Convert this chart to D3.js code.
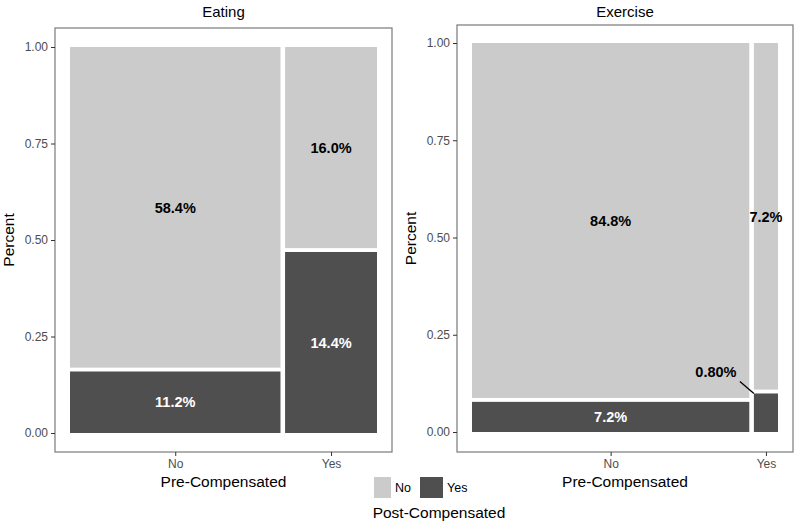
<!DOCTYPE html>
<html>
<head>
<meta charset="utf-8">
<script src="https://cdn.jsdelivr.net/npm/d3@7"></script>
<style>
  body { margin: 0; background: #fff; }
  text { font-family: "Liberation Sans", Arial, sans-serif; }
</style>
</head>
<body>
<svg id="canvas"></svg>
<script>
// categories
const preCats = ['No', 'Yes'];      // x: Pre-Compensated
const postCats = ['No', 'Yes'];     // fill: Post-Compensated
const yTicks = [0, 0.25, 0.5, 0.75, 1];

// percent of all cases, [pre][post]
const eatingNo = [58.4, 11.2];   // pre = No  -> post No, post Yes
const eatingYes = [16.0, 14.4];  // pre = Yes
const exerciseNo = [84.8, 7.2];
const exerciseYes = [7.2, 0.8];
const eatingLabels = [['58.4%', '11.2%'], ['16.0%', '14.4%']];
const exerciseLabels = [['84.8%', '7.2%'], ['7.2%', '0.80%']];

const w = 800, h = 522;
const light = '#cbcbcb', dark = '#4f4f4f';

const svg = d3.select('#canvas').attr('width', w).attr('height', h);

const panels = [
  { title: 'Eating', data: [eatingNo, eatingYes], labels: eatingLabels,
    box: [55, 28, 392, 452], xr: [70, 377], yr: [433, 47] },
  { title: 'Exercise', data: [exerciseNo, exerciseYes], labels: exerciseLabels,
    box: [457, 25, 793, 452], xr: [472, 778], yr: [432, 43] }
];

const gx = 0.015, gy = 0.01;

panels.forEach((p) => {
  const g = svg.append('g');
  const x = d3.scaleLinear().domain([0, 1]).range(p.xr);
  const y = d3.scaleLinear().domain([0, 1]).range(p.yr);
  const total = d3.sum(p.data, (d) => d3.sum(d));

  // build tiles
  const tiles = [];
  let xs = 0;
  p.data.forEach((col, i) => {
    const colTot = d3.sum(col);
    const wdt = (colTot / total) * (1 - gx);
    const darkH = (col[1] / colTot) * (1 - gy);
    // post = Yes (dark) at bottom, post = No (light) on top
    tiles.push({ pre: i, post: 1, x0: xs, x1: xs + wdt, y0: 0, y1: darkH });
    tiles.push({ pre: i, post: 0, x0: xs, x1: xs + wdt, y0: darkH + gy, y1: 1 });
    xs += wdt + gx;
  });

  // border
  g.append('rect')
    .attr('x', p.box[0]).attr('y', p.box[1])
    .attr('width', p.box[2] - p.box[0]).attr('height', p.box[3] - p.box[1])
    .attr('fill', 'none').attr('stroke', '#7a7a7a').attr('stroke-width', 1.2);

  g.selectAll('rect.tile')
    .data(tiles)
    .enter()
    .append('rect')
    .attr('class', 'tile')
    .attr('x', (d) => x(d.x0))
    .attr('width', (d) => x(d.x1) - x(d.x0))
    .attr('y', (d) => y(d.y1))
    .attr('height', (d) => y(d.y0) - y(d.y1))
    .attr('fill', (d) => (d.post === 1 ? dark : light));

  // labels
  tiles.forEach((d) => {
    const txt = p.labels[d.pre][d.post];
    let cx = (x(d.x0) + x(d.x1)) / 2;
    let cy = (y(d.y0) + y(d.y1)) / 2;
    let color = d.post === 1 ? '#fff' : '#000';
    if (txt === '0.80%') {
      // repelled label with a leader line
      const tx = x(d.x0), ty = y(d.y1);
      g.append('line')
        .attr('x1', tx - 14).attr('y1', ty - 12)
        .attr('x2', tx).attr('y2', ty)
        .attr('stroke', '#000').attr('stroke-width', 1.3);
      cx = tx - 38; cy = ty - 22; color = '#000';
    }
    g.append('text')
      .attr('x', cx).attr('y', cy)
      .attr('dy', '0.36em')
      .attr('text-anchor', 'middle')
      .attr('font-size', 14.5)
      .attr('font-weight', 'bold')
      .attr('fill', color)
      .text(txt);
  });

  // axes
  const yAxis = d3.axisLeft(y).tickValues(yTicks).tickFormat(d3.format('.2f')).tickSize(4).tickPadding(3);
  const ya = g.append('g').attr('transform', 'translate(' + p.box[0] + ',0)').call(yAxis);
  ya.select('.domain').remove();
  ya.selectAll('line').attr('stroke', '#333');
  ya.selectAll('text').attr('font-size', 12).attr('fill', '#4d4d4d')
    .attr('font-family', '"Liberation Sans", Arial, sans-serif');

  const tickX = tiles.filter((d) => d.post === 0).map((d) => (x(d.x0) + x(d.x1)) / 2);
  const xAxis = d3.axisBottom(d3.scaleOrdinal().domain(preCats).range(tickX)).tickSize(4).tickPadding(3);
  const xa = g.append('g').attr('transform', 'translate(0,' + p.box[3] + ')').call(xAxis);
  xa.select('.domain').remove();
  xa.selectAll('line').attr('stroke', '#333');
  xa.selectAll('text').attr('font-size', 12).attr('fill', '#4d4d4d')
    .attr('font-family', '"Liberation Sans", Arial, sans-serif');

  const midX = (p.box[0] + p.box[2]) / 2;
  g.append('text').attr('x', midX).attr('y', 17).attr('text-anchor', 'middle')
    .attr('font-size', 15).text(p.title);
  g.append('text').attr('x', midX).attr('y', 487).attr('text-anchor', 'middle')
    .attr('font-size', 15.5).text('Pre-Compensated');
  g.append('text')
    .attr('transform', 'translate(' + (p.box[0] - 41) + ',' + ((p.box[1] + p.box[3]) / 2) + ') rotate(-90)')
    .attr('text-anchor', 'middle').attr('font-size', 15.5).text('Percent');
});

// legend
const leg = svg.append('g');
const legItems = [
  { key: postCats[0], fill: light, x: 374, w: 17 },
  { key: postCats[1], fill: dark, x: 420, w: 23 }
];
leg.selectAll('rect')
  .data(legItems)
  .enter()
  .append('rect')
  .attr('x', (d) => d.x).attr('y', 477)
  .attr('width', (d) => d.w).attr('height', 21)
  .attr('fill', (d) => d.fill);
leg.selectAll('text.k')
  .data(legItems)
  .enter()
  .append('text')
  .attr('class', 'k')
  .attr('x', (d) => d.x + d.w + 4).attr('y', 492)
  .attr('font-size', 12.5).attr('fill', '#000')
  .text((d) => d.key);
leg.append('text').attr('x', 439).attr('y', 518).attr('text-anchor', 'middle')
  .attr('font-size', 15.5).text('Post-Compensated');
</script>
</body>
</html>
